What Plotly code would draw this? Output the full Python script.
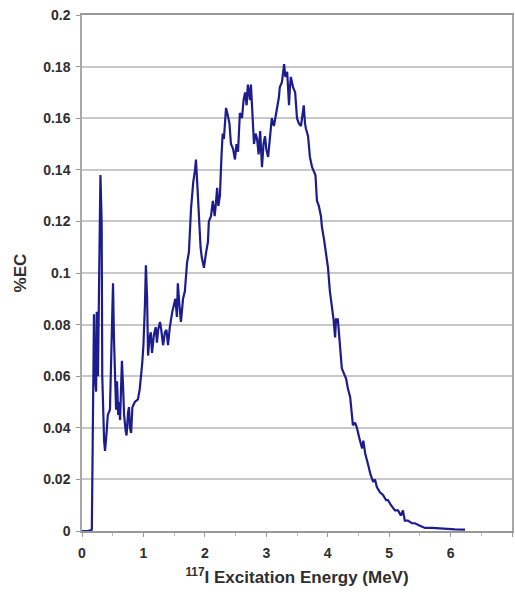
import plotly.graph_objects as go

energy_mev = [0.00, 0.10, 0.16, 0.18, 0.195, 0.21, 0.23, 0.24, 0.26, 0.28, 0.30, 0.32, 0.33, 0.36, 0.375,
              0.40, 0.42, 0.455, 0.47, 0.49, 0.505, 0.52, 0.54, 0.555, 0.57, 0.59, 0.60, 0.62, 0.635, 0.65,
              0.67, 0.685, 0.71, 0.725, 0.75, 0.765, 0.78, 0.80, 0.82, 0.86, 0.91, 0.94, 0.98, 1.00, 1.025,
              1.04, 1.06, 1.075, 1.10, 1.12, 1.14, 1.17, 1.20, 1.22, 1.24, 1.27, 1.29, 1.32, 1.35, 1.375,
              1.40, 1.43, 1.47, 1.50, 1.52, 1.545, 1.56, 1.585, 1.61, 1.645, 1.675, 1.71, 1.74, 1.775, 1.81,
              1.84, 1.855, 1.88, 1.905, 1.93, 1.95, 1.985, 2.02, 2.05, 2.065, 2.10, 2.13, 2.16, 2.18, 2.20,
              2.22, 2.245, 2.27, 2.29, 2.31, 2.345, 2.375, 2.40, 2.425, 2.46, 2.49, 2.515, 2.54, 2.57, 2.605,
              2.63, 2.655, 2.68, 2.70, 2.735, 2.75, 2.775, 2.80, 2.825, 2.85, 2.875, 2.90, 2.93, 2.955, 2.98,
              3.00, 3.03, 3.06, 3.09, 3.125, 3.175, 3.205, 3.22, 3.255, 3.29, 3.31, 3.34, 3.355, 3.37, 3.385,
              3.40, 3.435, 3.47, 3.50, 3.53, 3.565, 3.595, 3.61, 3.63, 3.645, 3.68, 3.71, 3.745, 3.775, 3.80,
              3.825, 3.855, 3.89, 3.905, 3.94, 3.97, 4.005, 4.035, 4.07, 4.095, 4.12, 4.135, 4.165, 4.20, 4.23,
              4.265, 4.30, 4.33, 4.365, 4.39, 4.41, 4.445, 4.475, 4.515, 4.56, 4.58, 4.61, 4.655, 4.695, 4.74,
              4.77, 4.80, 4.85, 4.90, 4.95, 4.98, 5.03, 5.095, 5.145, 5.19, 5.225, 5.255, 5.305, 5.37, 5.42,
              5.50, 5.585, 5.70, 5.80, 5.91, 6.07, 6.235]

pct_ec = [0.0, 0.0, 0.0005, 0.04, 0.084, 0.06, 0.054, 0.085, 0.06, 0.1, 0.138, 0.12, 0.06, 0.035, 0.031,
          0.038, 0.045, 0.047, 0.06, 0.08, 0.096, 0.075, 0.06, 0.047, 0.058, 0.045, 0.05, 0.043, 0.055, 0.066,
          0.055, 0.045, 0.039, 0.037, 0.046, 0.048, 0.040, 0.038, 0.048, 0.05, 0.051, 0.055, 0.065, 0.072, 0.088,
          0.103, 0.09, 0.068, 0.075, 0.077, 0.069, 0.076, 0.079, 0.073, 0.078, 0.081, 0.078, 0.072, 0.077, 0.078,
          0.072, 0.079, 0.085, 0.088, 0.09, 0.083, 0.096, 0.088, 0.081, 0.090, 0.093, 0.104, 0.108, 0.125, 0.135,
          0.14, 0.144, 0.133, 0.118, 0.110, 0.106, 0.102, 0.108, 0.112, 0.120, 0.122, 0.128, 0.122, 0.127, 0.133,
          0.126, 0.130, 0.145, 0.154, 0.152, 0.164, 0.161, 0.158, 0.150, 0.148, 0.144, 0.150, 0.147, 0.162, 0.160,
          0.167, 0.170, 0.165, 0.173, 0.167, 0.173, 0.162, 0.150, 0.154, 0.152, 0.146, 0.155, 0.141, 0.150, 0.153,
          0.148, 0.145, 0.152, 0.160, 0.157, 0.164, 0.168, 0.172, 0.174, 0.181, 0.176, 0.178, 0.170, 0.165, 0.172,
          0.176, 0.172, 0.170, 0.160, 0.158, 0.157, 0.162, 0.165, 0.158, 0.156, 0.153, 0.145, 0.141, 0.139, 0.138,
          0.128, 0.126, 0.122, 0.118, 0.113, 0.108, 0.102, 0.093, 0.087, 0.082, 0.075, 0.082, 0.082, 0.070, 0.063,
          0.061, 0.059, 0.055, 0.052, 0.046, 0.041, 0.042, 0.040, 0.036, 0.032, 0.035, 0.030, 0.026, 0.022, 0.019,
          0.020, 0.017, 0.015, 0.014, 0.012, 0.012, 0.010, 0.008, 0.008, 0.006, 0.008, 0.004, 0.004, 0.003, 0.003,
          0.002, 0.0012, 0.0012, 0.001, 0.0007, 0.0006, 0.0005]

x_ticks = [0, 1, 2, 3, 4, 5, 6, 7]
y_ticks = [0, 0.02, 0.04, 0.06, 0.08, 0.1, 0.12, 0.14, 0.16, 0.18, 0.2]
y_tick_text = ["0", "0.02", "0.04", "0.06", "0.08", "0.1", "0.12", "0.14", "0.16", "0.18", "0.2"]

fig = go.Figure()
fig.add_trace(go.Scatter(
    x=energy_mev, y=pct_ec, mode="lines",
    line=dict(color="#1c1c8f", width=2.2),
    showlegend=False, hoverinfo="skip",
))

font_family = "Liberation Sans, Arial, sans-serif"
tick_font = dict(size=14, color="#2e2e2e", family=font_family, weight="bold")
title_font = dict(size=17, color="#2e2e2e", family=font_family, weight="bold")

fig.update_layout(
    width=515, height=599,
    margin=dict(l=82, r=1, t=15, b=68),
    paper_bgcolor="white", plot_bgcolor="white",
    font=dict(family=font_family, size=11, color="#333333"),
)
fig.update_xaxes(
    range=[0, 7], tickvals=x_ticks, ticktext=[str(v) for v in x_ticks],
    showgrid=False, zeroline=False,
    showline=True, linecolor="#999999", linewidth=1.5, mirror=True,
    ticks="outside", ticklen=4, tickcolor="#999999", tickwidth=1,
    minor=dict(dtick=0.5, ticks="outside", ticklen=3, tickcolor="#bbbbbb", showgrid=False),
    tickfont=tick_font, ticklabelstandoff=4,
    title=dict(text="<sup>117</sup>I Excitation Energy (MeV)", font=title_font, standoff=12),
)
fig.update_yaxes(
    range=[0, 0.2], tickvals=y_ticks, ticktext=y_tick_text,
    showgrid=True, gridcolor="#c8c8c8", gridwidth=1.5, zeroline=False,
    showline=True, linecolor="#a8a8a8", linewidth=1.5, mirror=True,
    ticks="outside", ticklen=4, tickcolor="#999999",
    tickfont=tick_font, ticklabelstandoff=3,
    title=dict(text="%EC", font=title_font, standoff=12),
)

fig.write_html("out.html")
